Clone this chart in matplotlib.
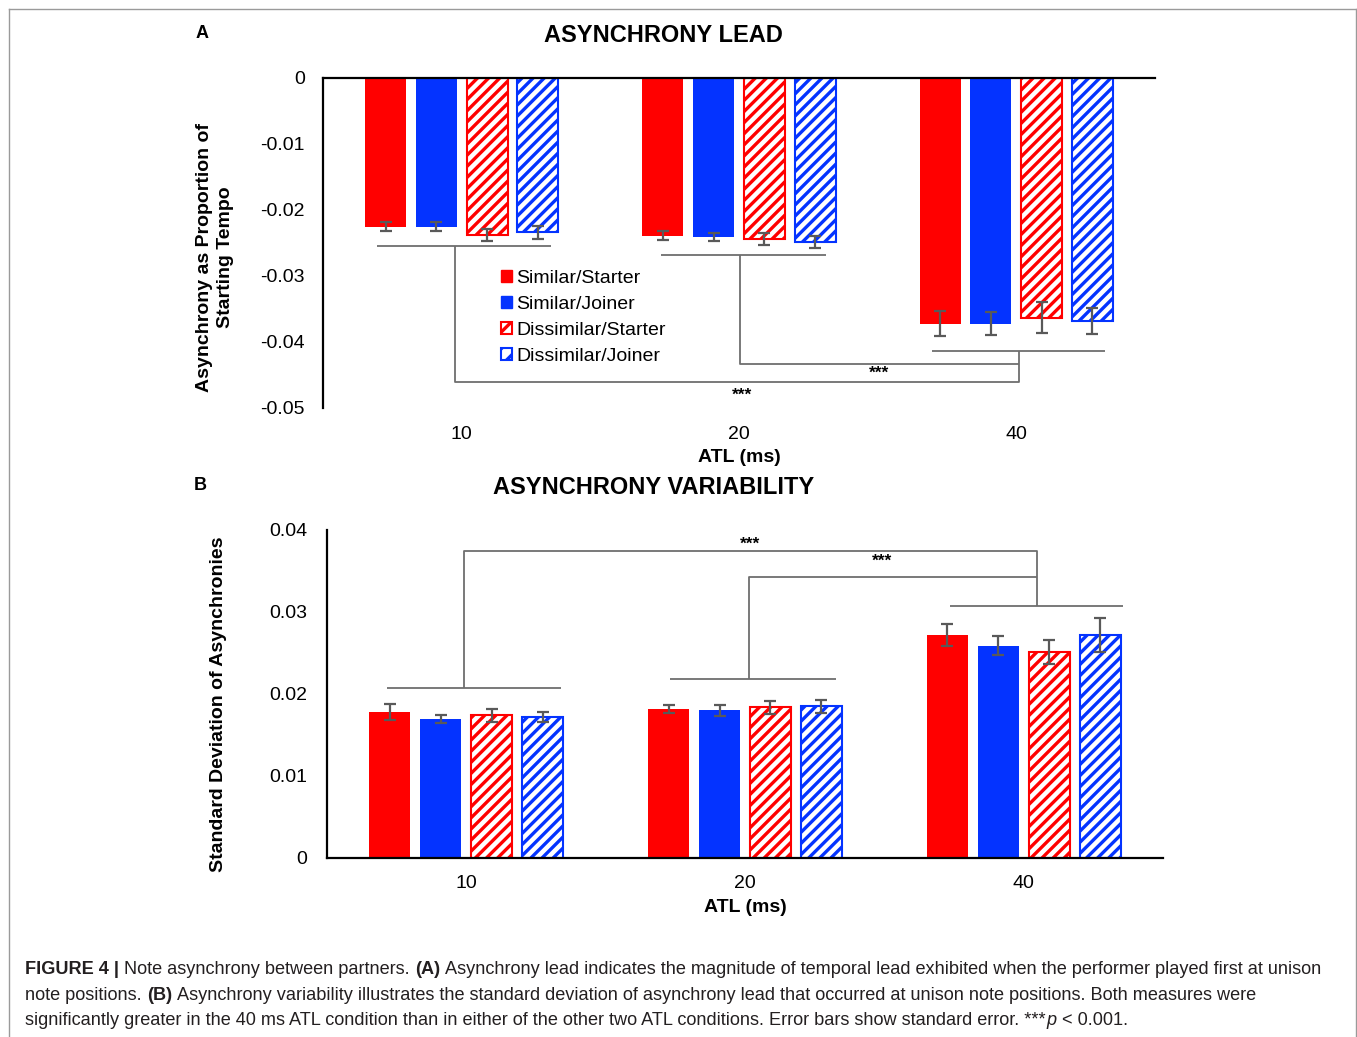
import matplotlib
matplotlib.use('Agg')
import matplotlib.pyplot as plt
import numpy as np
from matplotlib.patches import Patch
from matplotlib.lines import Line2D

plt.rcParams['font.family'] = ['Liberation Sans', 'DejaVu Sans']
plt.rcParams['hatch.linewidth'] = 2.4

# ---------------- data ----------------
atl_labels = ['10', '20', '40']
series_names = ['Similar/Starter', 'Similar/Joiner', 'Dissimilar/Starter', 'Dissimilar/Joiner']

# Panel A: asynchrony lead (proportion of starting tempo)
lead_ss = [-0.0225, -0.0239, -0.0372]
lead_sj = [-0.0225, -0.0241, -0.0372]
lead_ds = [-0.0238, -0.0244, -0.0363]
lead_dj = [-0.0234, -0.0248, -0.0368]
lead_err_ss = [0.0007, 0.0007, 0.0019]
lead_err_sj = [0.0007, 0.0006, 0.0018]
lead_err_ds = [0.0009, 0.0009, 0.0023]
lead_err_dj = [0.0010, 0.0009, 0.0020]

# Panel B: asynchrony variability (SD)
var_ss = [0.0178, 0.0182, 0.0272]
var_sj = [0.0170, 0.0180, 0.0259]
var_ds = [0.0174, 0.0184, 0.0251]
var_dj = [0.0172, 0.0185, 0.0272]
var_err_ss = [0.0010, 0.0005, 0.0013]
var_err_sj = [0.0005, 0.0007, 0.0012]
var_err_ds = [0.0008, 0.0008, 0.0015]
var_err_dj = [0.0006, 0.0008, 0.0021]

yticks_a = [0, -0.01, -0.02, -0.03, -0.04, -0.05]
yticklabels_a = ['0', '-0.01', '-0.02', '-0.03', '-0.04', '-0.05']
yticks_b = [0, 0.01, 0.02, 0.03, 0.04]
yticklabels_b = ['0', '0.01', '0.02', '0.03', '0.04']

# significance brackets (data units)
brk_a_group_y = [-0.0254, -0.0268, -0.0414]
brk_a_group_lo = [-0.307, -0.28, -0.303]
brk_a_group_hi = [0.321, 0.314, 0.32]
brk_a_stem_x = [-0.025, 0.004, 0.01]
brk_a_outer_y = -0.0461
brk_a_inner_y = -0.0433

brk_b_group_y = [0.02076, 0.02187, 0.03076]
brk_b_group_lo = [-0.284, -0.269, -0.266]
brk_b_group_hi = [0.341, 0.327, 0.355]
brk_b_stem_x = [-0.007, 0.014, 0.047]
brk_b_outer_y = 0.03747
brk_b_inner_y = 0.03423

# ---------------- layout ----------------
W, H = 1357, 1037
fig = plt.figure(figsize=(W / 100, H / 100), dpi=100)


def fx(px):
    return px / W


def fy(py):
    return 1 - py / H


RED = '#FF0000'
BLUE = '#0433FF'
ERRC = '#595959'
BRC = '#6e6e6e'

styles = [(RED, None), (BLUE, None), (RED, '///'), (BLUE, '///')]
width = 0.148
pitch = 0.183
x = np.arange(len(atl_labels))


def draw_bars(ax, vals_list, errs_list):
    for i, (vals, errs, (col, hatch)) in enumerate(zip(vals_list, errs_list, styles)):
        xs = x + (i - 1.5) * pitch
        if hatch:
            ax.bar(xs, vals, width, facecolor='white', edgecolor=col, hatch=hatch,
                   linewidth=1.5, zorder=2)
        else:
            ax.bar(xs, vals, width, color=col, linewidth=0, zorder=2)
        ax.errorbar(xs, vals, yerr=errs, fmt='none', ecolor=ERRC, elinewidth=1.6,
                    capsize=4.5, capthick=1.6, zorder=3)


def draw_brackets(ax, gy, glo, ghi, sx, outer_y, inner_y):
    kw = dict(color=BRC, lw=1.3, zorder=1, solid_capstyle='butt')
    for i in range(3):
        ax.plot([x[i] + glo[i], x[i] + ghi[i]], [gy[i], gy[i]], **kw)
    # outer: group 0 <-> group 2
    ax.plot([x[0] + sx[0], x[0] + sx[0], x[2] + sx[2], x[2] + sx[2]],
            [gy[0], outer_y, outer_y, gy[2]], **kw)
    # inner: group 1 <-> group 2
    ax.plot([x[1] + sx[1], x[1] + sx[1], x[2] + sx[2]],
            [gy[1], inner_y, inner_y], **kw)


# ---------- Panel A ----------
axA = fig.add_axes([fx(323), fy(408), fx(1155) - fx(323), fy(78) - fy(408)])
draw_bars(axA, [lead_ss, lead_sj, lead_ds, lead_dj],
          [lead_err_ss, lead_err_sj, lead_err_ds, lead_err_dj])
draw_brackets(axA, brk_a_group_y, brk_a_group_lo, brk_a_group_hi, brk_a_stem_x,
              brk_a_outer_y, brk_a_inner_y)
axA.text(1.01, -0.0480, '***', ha='center', va='center', fontsize=12.5, fontweight='bold')
axA.text(1.505, -0.0447, '***', ha='center', va='center', fontsize=12.5, fontweight='bold')
axA.set_xlim(-0.5, 2.5)
axA.set_ylim(-0.05, 0)
axA.set_yticks(yticks_a)
axA.set_yticklabels(yticklabels_a)
axA.set_xticks(x)
axA.set_xticklabels(atl_labels)
for s in ['right', 'bottom']:
    axA.spines[s].set_visible(False)
for s in ['left', 'top']:
    axA.spines[s].set_linewidth(1.6)
    axA.spines[s].set_color('black')
    axA.spines[s].set_zorder(4)
axA.tick_params(axis='y', length=0, pad=13, labelsize=14)
axA.tick_params(axis='x', length=0, pad=13, labelsize=14, top=False, bottom=True,
                labeltop=False, labelbottom=True)

# ---------- Panel B ----------
axB = fig.add_axes([fx(327), fy(858), fx(1163) - fx(327), fy(530) - fy(858)])
draw_bars(axB, [var_ss, var_sj, var_ds, var_dj],
          [var_err_ss, var_err_sj, var_err_ds, var_err_dj])
draw_brackets(axB, brk_b_group_y, brk_b_group_lo, brk_b_group_hi, brk_b_stem_x,
              brk_b_outer_y, brk_b_inner_y)
axB.text(1.018, 0.0383, '***', ha='center', va='center', fontsize=12.5, fontweight='bold')
axB.text(1.492, 0.0362, '***', ha='center', va='center', fontsize=12.5, fontweight='bold')
axB.set_xlim(-0.5, 2.5)
axB.set_ylim(0, 0.04)
axB.set_yticks(yticks_b)
axB.set_yticklabels(yticklabels_b)
axB.set_xticks(x)
axB.set_xticklabels(atl_labels)
for s in ['right', 'top']:
    axB.spines[s].set_visible(False)
for s in ['left', 'bottom']:
    axB.spines[s].set_linewidth(1.6)
    axB.spines[s].set_color('black')
    axB.spines[s].set_zorder(4)
axB.tick_params(axis='y', length=0, pad=14, labelsize=14)
axB.tick_params(axis='x', length=0, pad=12, labelsize=14)

# ---------- legend ----------
handles = []
for name, (col, hatch) in zip(series_names, styles):
    if hatch:
        handles.append(Patch(facecolor='white', edgecolor=col, hatch='//', linewidth=1.5))
    else:
        handles.append(Patch(facecolor=col, edgecolor=col))
axA.legend(handles, series_names, loc='upper left', bbox_to_anchor=(fx(501), fy(270)),
           bbox_transform=fig.transFigure, frameon=False, fontsize=14,
           handlelength=0.55, handleheight=0.55, handletextpad=0.25,
           labelspacing=0.46, borderpad=0, borderaxespad=0)

# ---------- texts ----------
fig.text(fx(663), fy(36), 'ASYNCHRONY LEAD', ha='center', va='center',
         fontsize=17, fontweight='bold')
fig.text(fx(654), fy(488), 'ASYNCHRONY VARIABILITY', ha='center', va='center',
         fontsize=17, fontweight='bold')
fig.text(fx(202), fy(34), 'A', ha='center', va='center', fontsize=13, fontweight='bold')
fig.text(fx(200), fy(485), 'B', ha='center', va='center', fontsize=13, fontweight='bold')
fig.text(fx(215), fy(257), 'Asynchrony as Proportion of\nStarting Tempo', rotation=90,
         ha='center', va='center', fontsize=14, fontweight='bold', linespacing=1.25,
         multialignment='center')
fig.text(fx(219), fy(704), 'Standard Deviation of Asynchronies', rotation=90,
         ha='center', va='center', fontsize=14, fontweight='bold')
fig.text(fx(739), fy(457), 'ATL (ms)', ha='center', va='center', fontsize=14,
         fontweight='bold')
fig.text(fx(745), fy(908), 'ATL (ms)', ha='center', va='center', fontsize=14,
         fontweight='bold')

# ---------- frame ----------
FRC = '#9a9a9a'
fig.add_artist(Line2D([fx(8.5), fx(8.5)], [fy(H + 2), fy(8.5)], transform=fig.transFigure,
                      color=FRC, lw=1.0))
fig.add_artist(Line2D([fx(8.5), fx(1355.5)], [fy(8.5), fy(8.5)], transform=fig.transFigure,
                      color=FRC, lw=1.0))
fig.add_artist(Line2D([fx(1355.5), fx(1355.5)], [fy(8.5), fy(H + 2)], transform=fig.transFigure,
                      color=FRC, lw=1.0))

# ---------- caption ----------
cap_family = ['Liberation Sans Narrow', 'Liberation Sans', 'DejaVu Sans']
cap_color = '#231f20'
caption_lines = [
    [('FIGURE 4 |', 'bold', 'normal'), ('Note asynchrony between partners.', 'normal', 'normal'),
     ('(A)', 'bold', 'normal'),
     ('Asynchrony lead indicates the magnitude of temporal lead exhibited when the performer played first at unison',
      'normal', 'normal')],
    [('note positions.', 'normal', 'normal'), ('(B)', 'bold', 'normal'),
     ('Asynchrony variability illustrates the standard deviation of asynchrony lead that occurred at unison note positions. Both measures were',
      'normal', 'normal')],
    [('significantly greater in the 40 ms ATL condition than in either of the other two ATL conditions. Error bars show standard error. ***',
      'normal', 'normal'), ('p', 'normal', 'italic'), ('< 0.001.', 'normal', 'normal')],
]
joins = [[True, True, True], [True, True], [False, True]]

fig.canvas.draw()
renderer = fig.canvas.get_renderer()


def twidth(s, size, weight='normal', style='normal'):
    t = fig.text(0, 0, s, fontsize=size, fontweight=weight, fontstyle=style,
                 family=cap_family)
    w = t.get_window_extent(renderer).width
    t.remove()
    return w


def line_width(runs, jn, size):
    sp = twidth('a a', size) - twidth('aa', size)
    w = 0
    for k, (s, wt, st) in enumerate(runs):
        w += twidth(s, size, wt, st)
        if k < len(runs) - 1 and jn[k]:
            w += sp
        elif k < len(runs) - 1:
            w += 1
    return w


base = 13.0
target = 1295.0
fs = base * target / line_width(caption_lines[0], joins[0], base)
space_w = twidth('a a', fs) - twidth('aa', fs)
baselines = [974, 999.5, 1025]
for runs, jn, yb in zip(caption_lines, joins, baselines):
    xp = 25.0
    for k, (s, wt, st) in enumerate(runs):
        fig.text(fx(xp), fy(yb), s, fontsize=fs, fontweight=wt, fontstyle=st,
                 family=cap_family, color=cap_color, ha='left', va='baseline')
        xp += twidth(s, fs, wt, st)
        if k < len(runs) - 1:
            xp += space_w if jn[k] else 1

fig.savefig('out.png', dpi=100)
